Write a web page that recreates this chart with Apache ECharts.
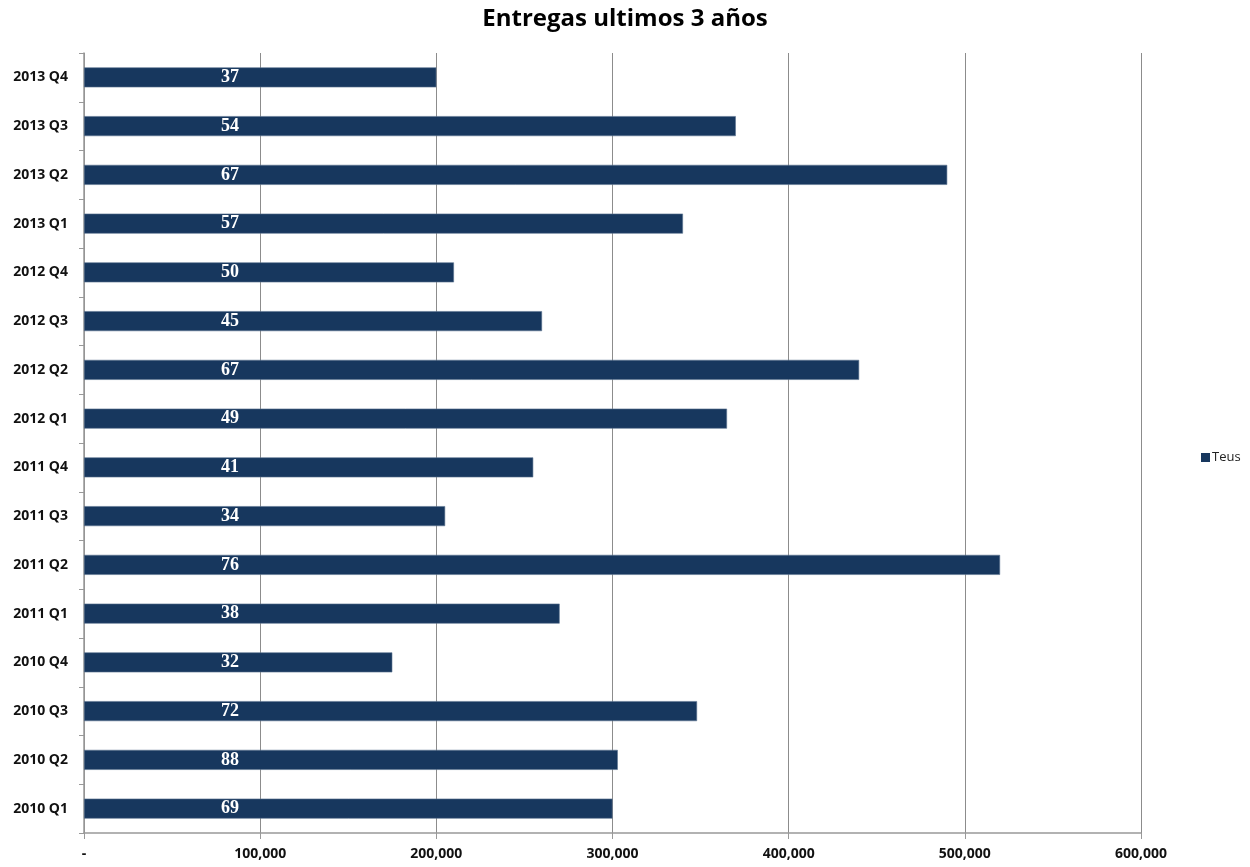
<!DOCTYPE html>
<html>
<head>
<meta charset="utf-8">
<script src="https://cdn.jsdelivr.net/npm/echarts@6/dist/echarts.min.js"></script>
<style>
  html, body { margin: 0; padding: 0; background: #fff; }
  #chart { width: 1250px; height: 867px; }
</style>
</head>
<body>
<div id="chart"></div>
<script>
// categories from bottom to top
const quarters = ['2010 Q1', '2010 Q2', '2010 Q3', '2010 Q4', '2011 Q1', '2011 Q2', '2011 Q3', '2011 Q4',
  '2012 Q1', '2012 Q2', '2012 Q3', '2012 Q4', '2013 Q1', '2013 Q2', '2013 Q3', '2013 Q4']
const teus = [300000, 303000, 348000, 175000, 270000, 520000, 205000, 255000,
  365000, 440000, 260000, 210000, 340000, 490000, 370000, 200000]
// numbers written inside each bar
const counts = [69, 88, 72, 32, 38, 76, 34, 41, 49, 67, 45, 50, 57, 67, 54, 37]

const chart = echarts.init(document.getElementById('chart'))

const option = {
  animation: false,
  title: {
    text: 'Entregas ultimos 3 años',
    left: 'center',
    top: 2,
    textStyle: {
      fontFamily: 'Open Sans',
      fontSize: 24,
      fontWeight: 'bold',
      color: '#000'
    }
  },
  legend: {
    data: ['Teus'],
    left: 1196,
    top: 446,
    itemWidth: 9,
    itemHeight: 9,
    itemGap: 4,
    icon: 'rect',
    itemStyle: { borderWidth: 0 },
    textStyle: { fontFamily: 'Open Sans', fontSize: 13, color: '#222', padding: [0, 0, 0, -3] }
  },
  grid: {
    left: 84,
    right: 109,
    top: 53,
    bottom: 34
  },
  xAxis: {
    type: 'value',
    min: 0,
    max: 600000,
    interval: 100000,
    axisLine: { show: true, lineStyle: { color: '#999', width: 1.5 } },
    axisTick: { show: true, length: 6, lineStyle: { color: '#999' } },
    splitLine: { show: true, lineStyle: { color: '#8c8c8c', width: 1 } },
    axisLabel: {
      margin: 14,
      fontFamily: 'Open Sans',
      fontSize: 14,
      fontWeight: 'bold',
      color: '#111',
      formatter: function (v) {
        if (v === 0) return '-'
        return v.toLocaleString('en-US')
      }
    }
  },
  yAxis: {
    type: 'category',
    data: quarters,
    axisLine: { show: true, lineStyle: { color: '#999', width: 1.5 } },
    axisTick: { show: true, length: 5, lineStyle: { color: '#999' } },
    axisLabel: {
      margin: 16,
      fontFamily: 'Open Sans',
      fontSize: 14,
      fontWeight: 'bold',
      color: '#111'
    }
  },
  series: [
    {
      name: 'Teus',
      type: 'bar',
      data: teus,
      barWidth: 20,
      itemStyle: {
        color: '#17375E',
        borderColor: '#5d7491',
        borderWidth: 0.6
      },
      label: {
        show: true,
        position: [146, '50%'],
        align: 'center',
        verticalAlign: 'middle',
        fontFamily: 'Liberation Serif',
        fontSize: 18,
        fontWeight: 'bold',
        color: '#fff',
        formatter: function (p) {
          return counts[p.dataIndex]
        }
      }
    }
  ]
}

chart.setOption(option)
</script>
</body>
</html>
